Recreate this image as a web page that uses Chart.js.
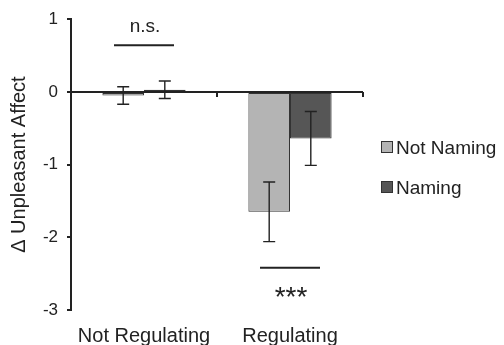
<!DOCTYPE html>
<html>
<head>
<meta charset="utf-8">
<script src="https://cdn.jsdelivr.net/npm/chart.js@4/dist/chart.umd.min.js"></script>
<style>
  html, body { margin: 0; padding: 0; background: #fff; }
  #wrap { width: 504px; height: 345px; }
</style>
</head>
<body>
<div id="wrap"><canvas id="affect-chart"></canvas></div>
<script>
// data
var categories = ["Not Regulating", "Regulating"];
var seriesNames = ["Not Naming", "Naming"];
var notNaming = [-0.05, -1.65];
var naming = [0.03, -0.64];
var notNamingErr = [0.12, 0.41];
var naming_err = [0.12, 0.37];
var yTicks = [1, 0, -1, -2, -3];
var sigLabels = ["n.s.", "***"];
var sigLineY = [0.64, -2.42];
var sigTextY = [0.89, -2.79];

var ink = "#222";
var font = "Liberation Sans, Arial, sans-serif";

// error bars, drawn at bar centres
var errorBars = {
  id: "errorBars",
  afterDatasetsDraw: function(chart) {
    var ctx = chart.ctx, y = chart.scales.y;
    var errs = [notNamingErr, naming_err];
    ctx.save();
    ctx.strokeStyle = ink;
    ctx.lineWidth = 1.4;
    chart.data.datasets.forEach(function(ds, di) {
      chart.getDatasetMeta(di).data.forEach(function(bar, i) {
        var v = ds.data[i], e = errs[di][i];
        var top = y.getPixelForValue(v + e), bot = y.getPixelForValue(v - e);
        ctx.beginPath();
        ctx.moveTo(bar.x, top); ctx.lineTo(bar.x, bot);
        ctx.moveTo(bar.x - 6, top); ctx.lineTo(bar.x + 6, top);
        ctx.moveTo(bar.x - 6, bot); ctx.lineTo(bar.x + 6, bot);
        ctx.stroke();
      });
    });
    ctx.restore();
  }
};

// zero axis ticks, significance marks, legend
var extras = {
  id: "extras",
  afterDraw: function(chart) {
    var ctx = chart.ctx, x = chart.scales.x, y = chart.scales.y, area = chart.chartArea;
    var y0 = y.getPixelForValue(0);
    ctx.save();
    ctx.strokeStyle = ink;
    ctx.lineWidth = 2;
    ctx.beginPath();
    var mid = (x.getPixelForValue(0) + x.getPixelForValue(1)) / 2;
    ctx.moveTo(mid, y0); ctx.lineTo(mid, y0 + 5);
    ctx.moveTo(area.right, y0); ctx.lineTo(area.right, y0 + 5);
    ctx.stroke();

    ctx.fillStyle = ink;
    ctx.textAlign = "center";
    ctx.textBaseline = "middle";
    categories.forEach(function(c, i) {
      var cx = x.getPixelForValue(i);
      var ly = y.getPixelForValue(sigLineY[i]);
      ctx.beginPath();
      ctx.moveTo(cx - 30, ly); ctx.lineTo(cx + 30, ly);
      ctx.stroke();
      ctx.font = (i === 0 ? "19px " : "28px ") + font;
      ctx.fillText(sigLabels[i], cx + 1, y.getPixelForValue(sigTextY[i]) + (i === 0 ? 0 : 4));
    });

    ctx.textAlign = "left";
    ctx.font = "19px " + font;
    chart.data.datasets.forEach(function(ds, i) {
      var ly = 148 + i * 40;
      ctx.fillStyle = ds.backgroundColor;
      ctx.fillRect(382, ly - 6, 10, 10);
      ctx.strokeStyle = "#333";
      ctx.lineWidth = 1;
      ctx.strokeRect(381.5, ly - 6.5, 11, 11);
      ctx.fillStyle = ink;
      ctx.fillText(seriesNames[i], 396, ly + 1);
    });
    ctx.restore();
  }
};

var ctx = document.getElementById("affect-chart").getContext("2d");
var chart = new Chart(ctx, {
  type: "bar",
  data: {
    labels: categories,
    datasets: [
      { label: seriesNames[0], data: notNaming, backgroundColor: "#b4b4b4", borderColor: "#333", borderWidth: 1, borderSkipped: false },
      { label: seriesNames[1], data: naming, backgroundColor: "#565656", borderColor: "#333", borderWidth: 1, borderSkipped: false }
    ]
  },
  options: {
    responsive: true,
    maintainAspectRatio: false,
    animation: false,
    layout: { padding: { top: 17, right: 141, left: 0, bottom: 0 } },
    plugins: { legend: { display: false }, tooltip: { enabled: false } },
    datasets: { bar: { categoryPercentage: 0.57, barPercentage: 1 } },
    scales: {
      x: {
        grid: { display: false, drawTicks: false },
        border: { display: false },
        ticks: { color: ink, font: { family: font, size: 20 }, padding: 14 },
        afterFit: function(axis) { axis.height = 35; }
      },
      y: {
        min: -3, max: 1,
        afterBuildTicks: function(axis) { axis.ticks = yTicks.map(function(v) { return { value: v }; }); },
        afterFit: function(axis) { axis.width = 71; },
        border: { display: true, color: ink, width: 2 },
        grid: {
          color: function(c) { return c.tick && c.tick.value === 0 ? ink : "transparent"; },
          lineWidth: 2,
          tickColor: ink,
          tickLength: 4,
          drawOnChartArea: true
        },
        ticks: { color: ink, font: { family: font, size: 17 }, padding: 9 },
        title: { display: true, text: "Δ Unpleasant Affect", color: ink, font: { family: font, size: 20 }, padding: { top: 7, bottom: 0 } }
      }
    }
  },
  plugins: [errorBars, extras]
});
</script>
</body>
</html>
